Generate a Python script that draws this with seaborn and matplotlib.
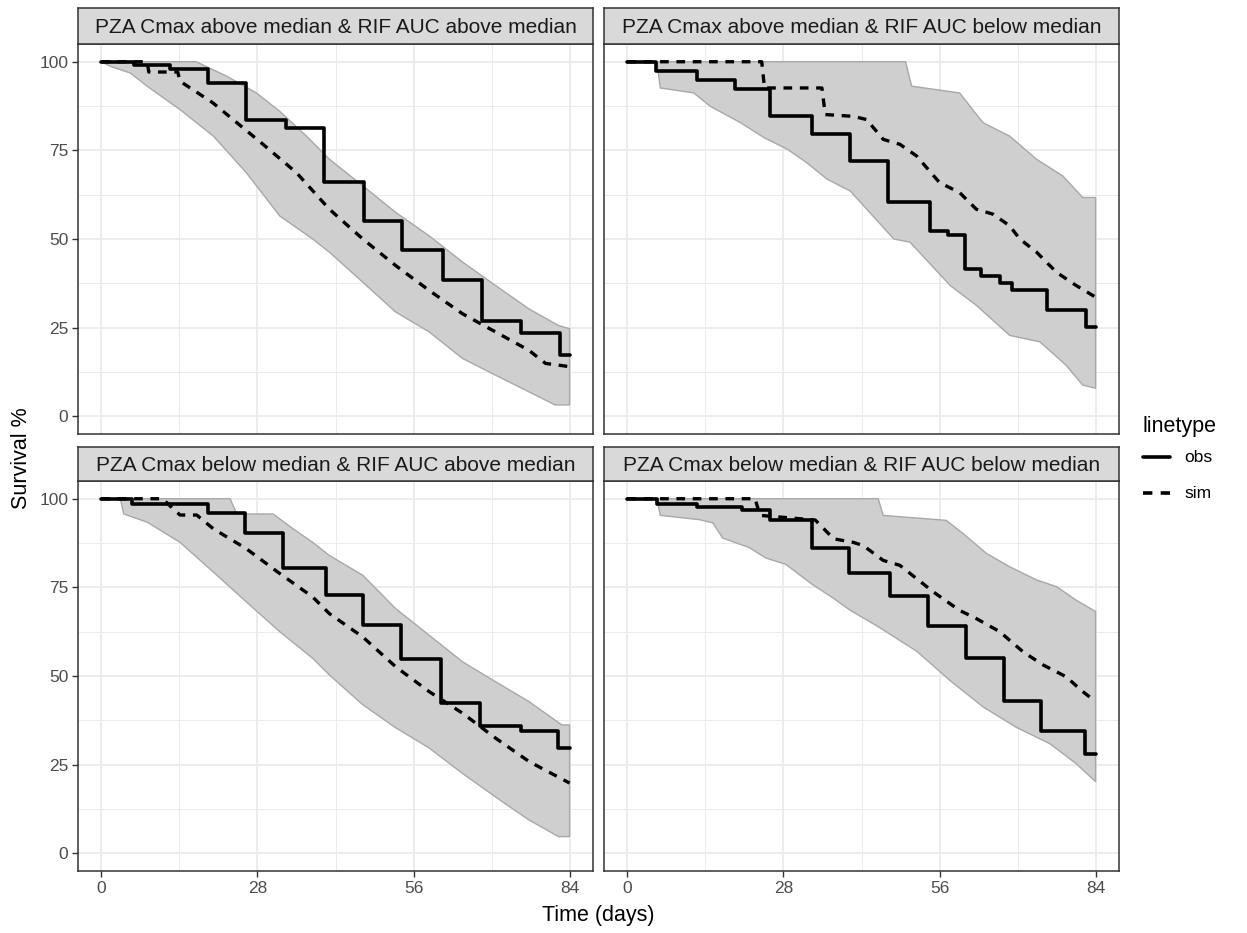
import numpy as np
import pandas as pd
import matplotlib
matplotlib.use("Agg")
import matplotlib.pyplot as plt
from matplotlib.lines import Line2D
import seaborn as sns

sns.set_theme(style="white")
plt.rcParams['font.family'] = ['Liberation Sans', 'DejaVu Sans']

# ---------------- data ----------------
panel_titles = [
    "PZA Cmax above median & RIF AUC above median",
    "PZA Cmax above median & RIF AUC below median",
    "PZA Cmax below median & RIF AUC above median",
    "PZA Cmax below median & RIF AUC below median",
]
x_ticks = [0, 28, 56, 84]
y_ticks = [0, 25, 50, 75, 100]
legend_labels = ["obs", "sim"]

# observed Kaplan-Meier (step) curves
tl_obs_day = [0, 5.8, 12.3, 19.2, 26.0, 33.2, 39.9, 47.2, 54.0, 61.2, 68.3, 75.2, 82.3, 84]
tl_obs_surv = [100, 99, 98, 94, 83.7, 81.4, 66, 55, 47, 38.5, 27, 23.5, 17.2, 17.2]
tr_obs_day = [0, 5.1, 12.5, 19.3, 25.6, 33.1, 40.0, 46.8, 54.3, 57.5, 60.5, 63.5, 66.8, 69.0, 75.2, 82.2, 84]
tr_obs_surv = [100, 97.3, 94.9, 92.3, 84.6, 79.5, 72, 60.3, 52.3, 51, 41.6, 39.7, 37.5, 35.5, 29.9, 25.2, 25.2]
bl_obs_day = [0, 5.5, 19.2, 25.7, 32.6, 40.3, 46.9, 53.7, 60.9, 68.0, 75.2, 82.0, 84]
bl_obs_surv = [100, 98.6, 96.1, 90.2, 80.5, 72.8, 64.3, 54.8, 42.4, 35.8, 34.6, 29.7, 29.7]
br_obs_day = [0, 5.3, 12.5, 20.6, 25.6, 33.1, 39.7, 47.1, 53.9, 60.7, 67.6, 74.2, 82.1, 84]
br_obs_surv = [100, 98.6, 97.7, 96.8, 94.1, 86.2, 79.1, 72.5, 64.1, 55.2, 43.0, 34.6, 27.9, 27.9]

# simulated median curves
tl_sim_day = [0, 8.2, 8.5, 13.7, 14.1, 20.0, 29.0, 35.0, 40.9, 46.9, 52.8, 58.8, 64.8, 70.7, 76.7, 79.7, 84]
tl_sim_surv = [100, 100, 97.1, 97.1, 94.5, 88.4, 76.7, 68.7, 58.4, 50, 42.5, 35.5, 28.9, 23.8, 18.6, 14.9, 14]
tr_sim_day = [0, 24.1, 24.6, 34.9, 35.5, 40.5, 42.9, 45.9, 48.9, 51.9, 56.0, 59.6, 62.6, 65.6, 68.6, 70.4, 73.4, 77.0, 80.5, 84]
tr_sim_surv = [100, 100, 92.6, 92.6, 85.1, 84.6, 83.7, 78.1, 76.7, 73.4, 65.9, 63.1, 58.4, 57, 53.7, 50, 46.3, 40.6, 36.9, 33.6]
bl_sim_day = [0, 11.0, 12.3, 14.1, 17.1, 20.1, 26.0, 32.0, 37.9, 40.9, 46.9, 52.8, 58.8, 64.8, 70.7, 76.7, 84]
bl_sim_surv = [100, 100, 98, 95.4, 95.4, 91.5, 85.9, 78.9, 72.3, 67.6, 61, 52.6, 45.6, 39.5, 32.5, 25.9, 19.8]
br_sim_day = [0, 22.9, 23.8, 33.7, 37.0, 40.5, 42.3, 45.9, 48.9, 54.9, 59.6, 62.6, 66.8, 71.0, 74.6, 78.7, 81.7, 84]
br_sim_surv = [100, 100, 95.3, 94, 88.7, 87.7, 86.8, 82.6, 81.2, 73.7, 68.5, 66.2, 62.5, 56.8, 53.1, 49.8, 45.6, 42.8]

# simulated prediction interval (upper / lower)
tl_hi_day = [0, 17.0, 22.5, 27.8, 32.0, 36.8, 40.9, 46.9, 52.8, 58.8, 64.8, 70.7, 76.7, 82.0, 84]
tl_hi_surv = [100, 100, 95.9, 91.2, 86, 79, 72.5, 65, 57.5, 50.9, 43.5, 36.9, 30.3, 25.6, 24.7]
tl_lo_day = [0, 1.6, 5.2, 8.2, 14.1, 20.1, 26.0, 32.0, 37.9, 40.9, 46.9, 52.8, 58.8, 64.8, 70.7, 76.7, 81.4, 84]
tl_lo_surv = [100, 98.7, 96.8, 93.1, 86.5, 79, 68.7, 56.5, 50, 46.3, 37.8, 29.4, 23.8, 16.3, 11.6, 6.9, 3.2, 3.2]
tr_hi_day = [0, 49.9, 51.0, 59.6, 63.8, 68.6, 73.4, 78.1, 81.7, 84]
tr_hi_surv = [100, 100, 93.1, 91.2, 82.8, 79, 72.5, 67.8, 61.7, 61.7]
tr_lo_day = [0, 5.3, 5.9, 11.9, 14.9, 20.3, 24.5, 28.7, 32.2, 35.8, 40.0, 47.8, 50.7, 57.9, 62.6, 68.6, 74.0, 78.7, 81.7, 84]
tr_lo_surv = [100, 100, 92.6, 91.2, 87.4, 82.8, 78.6, 75.3, 71.5, 66.9, 63.5, 50, 49.1, 36.9, 31.3, 22.8, 21, 14.4, 8.8, 7.9]
bl_hi_day = [0, 23.1, 24.3, 30.8, 34.4, 37.9, 40.9, 46.9, 52.8, 58.8, 64.8, 70.7, 76.7, 82.6, 84]
bl_hi_surv = [100, 100, 95.7, 95.7, 91.5, 87.7, 84, 78.4, 69, 61.5, 54, 48.4, 42.8, 36.2, 36.2]
bl_lo_day = [0, 3.4, 4.0, 8.2, 14.1, 20.1, 26.0, 32.0, 37.9, 40.9, 46.9, 52.8, 58.8, 64.8, 70.7, 76.7, 82.0, 84]
bl_lo_surv = [100, 100, 95.7, 93.4, 87.7, 79.3, 70.9, 62.5, 55, 50.3, 41.9, 35.4, 29.7, 22.5, 15.9, 9.4, 4.7, 4.7]
br_hi_day = [0, 45.0, 45.9, 57.2, 60.2, 64.4, 68.6, 73.4, 77.0, 80.5, 84]
br_hi_surv = [100, 100, 95.3, 93.9, 90.2, 84.6, 80.8, 77.1, 75.2, 71.4, 68.2]
br_lo_day = [0, 5.3, 5.9, 12.9, 15.3, 17.1, 21.9, 24.8, 28.4, 33.2, 36.8, 40.0, 44.8, 51.9, 57.9, 63.8, 69.8, 75.8, 80.5, 84]
br_lo_surv = [100, 100, 95.3, 94.1, 93.2, 88.9, 86.2, 83.3, 81.5, 75.8, 72.1, 68.5, 64.1, 57, 48.7, 41.3, 35.5, 30.9, 25.3, 20.2]

panels = [
    (tl_obs_day, tl_obs_surv, tl_sim_day, tl_sim_surv, tl_hi_day, tl_hi_surv, tl_lo_day, tl_lo_surv),
    (tr_obs_day, tr_obs_surv, tr_sim_day, tr_sim_surv, tr_hi_day, tr_hi_surv, tr_lo_day, tr_lo_surv),
    (bl_obs_day, bl_obs_surv, bl_sim_day, bl_sim_surv, bl_hi_day, bl_hi_surv, bl_lo_day, bl_lo_surv),
    (br_obs_day, br_obs_surv, br_sim_day, br_sim_surv, br_hi_day, br_hi_surv, br_lo_day, br_lo_surv),
]

# ---------------- layout ----------------
W, H = 1247, 933
fig = plt.figure(figsize=(W / 100, H / 100), dpi=100)
fig.patch.set_facecolor("white")

def fx(px):
    return px / W

def fy(py):
    return 1 - py / H

panel_boxes = [  # left, right, top, bottom (pixels)
    (78, 593, 44, 434),
    (604, 1119, 44, 434),
    (78, 593, 481, 871),
    (604, 1119, 481, 871),
]
strip_boxes = [(8, 44), (8, 44), (447, 481), (447, 481)]

border_col = "#333333"
dash = (0, (2.6, 2.3))

for i, (box, sbox, title, pdata) in enumerate(zip(panel_boxes, strip_boxes, panel_titles, panels)):
    l, r, t, b = box
    ax = fig.add_axes([fx(l), fy(b), fx(r) - fx(l), fy(t) - fy(b)])
    od, osv, sd, ssv, hd, hs, ld, ls = pdata

    # ribbon
    poly_x = list(hd) + list(ld)[::-1]
    poly_y = list(hs) + list(ls)[::-1]
    ax.fill(poly_x, poly_y, facecolor="#CFCFCF", edgecolor="#A8A8A8", lw=1.0, zorder=2)

    obs_df = pd.DataFrame({"day": od, "surv": osv})
    sim_df = pd.DataFrame({"day": sd, "surv": ssv})
    sns.lineplot(data=obs_df, x="day", y="surv", ax=ax, color="black", lw=2.6,
                 drawstyle="steps-post", estimator=None, sort=False, zorder=4)
    sns.lineplot(data=sim_df, x="day", y="surv", ax=ax, color="black", lw=2.4,
                 linestyle=dash, estimator=None, sort=False, zorder=3)

    ax.set_xlim(-4.2, 88.2)
    ax.set_ylim(-5, 105)
    ax.set_xticks(x_ticks)
    ax.set_yticks(y_ticks)
    ax.set_xticks([14, 42, 70], minor=True)
    ax.set_yticks([12.5, 37.5, 62.5, 87.5], minor=True)
    ax.grid(True, which="major", color="#EBEBEB", lw=1.3, zorder=0)
    ax.grid(True, which="minor", color="#EBEBEB", lw=0.7, zorder=0)
    ax.set_axisbelow(True)
    for sp in ax.spines.values():
        sp.set_visible(True)
        sp.set_color(border_col)
        sp.set_linewidth(1.1)
    ax.set_xlabel("")
    ax.set_ylabel("")
    ax.tick_params(which="major", length=4, width=1.0, color=border_col,
                   labelsize=12.5, labelcolor="#4D4D4D", pad=3, bottom=True, left=True)
    ax.tick_params(which="minor", length=0)
    if i < 2:
        ax.tick_params(labelbottom=False, bottom=False)
    if i % 2 == 1:
        ax.tick_params(labelleft=False, left=False)

    # strip
    st, sb = sbox
    sax = fig.add_axes([fx(l), fy(sb), fx(r) - fx(l), fy(st) - fy(sb)])
    sax.set_facecolor("#D9D9D9")
    sax.set_xticks([])
    sax.set_yticks([])
    for sp in sax.spines.values():
        sp.set_visible(True)
        sp.set_color(border_col)
        sp.set_linewidth(1.1)
    sax.text(0.5, 0.47, title, ha="center", va="center", fontsize=15,
             color="#1A1A1A", transform=sax.transAxes)

# axis titles
fig.text(fx(598), fy(915), "Time (days)", ha="center", va="center", fontsize=15.5, color="black")
fig.text(fx(22), fy(458), "Survival %", ha="center", va="center", rotation=90, fontsize=15.5, color="black")

# legend
fig.text(fx(1142), fy(427), "linetype", ha="left", va="center", fontsize=15.5, color="black")
key_y = [457, 493]
styles = ["-", dash]
for ky, lab, lsty in zip(key_y, legend_labels, styles):
    fig.add_artist(Line2D([fx(1143), fx(1170)], [fy(ky), fy(ky)], color="black",
                          lw=2.6, linestyle=lsty, transform=fig.transFigure))
    fig.text(fx(1184), fy(ky), lab, ha="left", va="center", fontsize=12.5, color="black")

fig.savefig("out.png", dpi=100, facecolor="white")
